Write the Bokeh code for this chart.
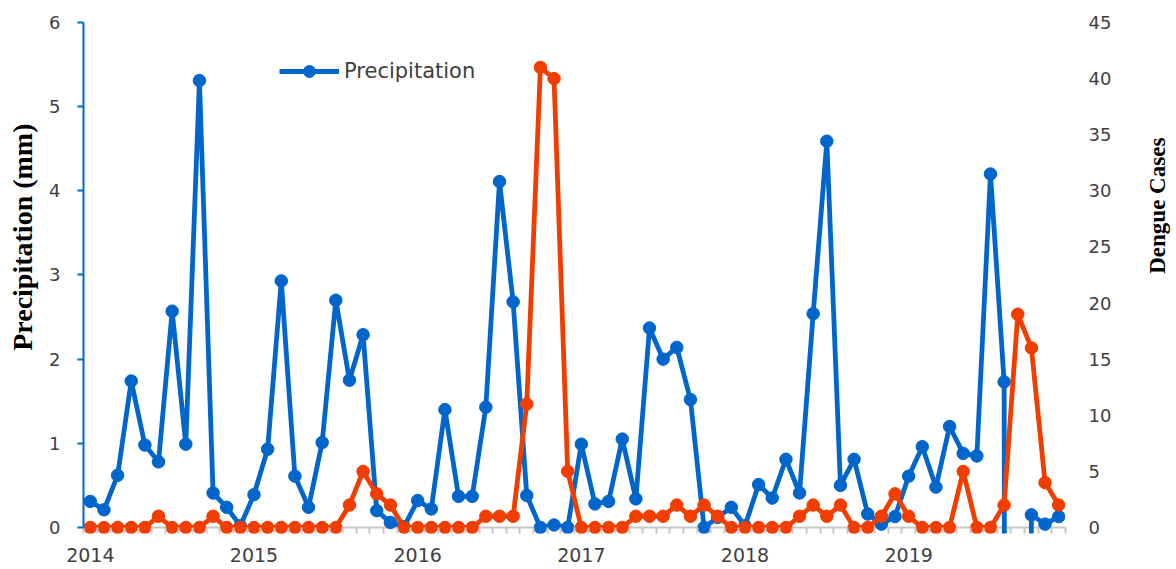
import math
from bokeh.plotting import figure
from bokeh.layouts import row
from bokeh.models import (Range1d, LinearAxis, FixedTicker, Span,
                          Legend, LegendItem, ColumnDataSource)
from bokeh.core.properties import value
from bokeh.embed import file_html
from bokeh.resources import INLINE

# ---- data (monthly, Jan 2014 .. Dec 2019) ----
years = ["2014", "2015", "2016", "2017", "2018", "2019"]

precipitation = [
    0.31, 0.21, 0.62, 1.74, 0.98, 0.78, 2.57, 0.99, 5.31, 0.41, 0.24, 0.02,   # 2014
    0.39, 0.93, 2.93, 0.61, 0.24, 1.01, 2.70, 1.75, 2.29, 0.20, 0.06, 0.01,   # 2015
    0.32, 0.22, 1.40, 0.37, 0.37, 1.43, 4.11, 2.68, 0.38, 0.00, 0.03, 0.00,   # 2016
    0.99, 0.28, 0.31, 1.05, 0.34, 2.37, 2.00, 2.14, 1.52, 0.00, 0.12, 0.24,   # 2017
    0.02, 0.51, 0.35, 0.81, 0.41, 2.54, 4.59, 0.50, 0.81, 0.16, 0.04, 0.13,   # 2018
    0.61, 0.96, 0.48, 1.20, 0.88, 0.85, 4.20, 1.73, -99.0, 0.15, 0.04, 0.13,  # 2019
]

dengue_cases = [
    0, 0, 0, 0, 0, 1, 0, 0, 0, 1, 0, 0,        # 2014
    0, 0, 0, 0, 0, 0, 0, 2, 5, 3, 2, 0,        # 2015
    0, 0, 0, 0, 0, 1, 1, 1, 11, 41, 40, 5,     # 2016
    0, 0, 0, 0, 1, 1, 1, 2, 1, 2, 1, 0,        # 2017
    0, 0, 0, 0, 1, 2, 1, 2, 0, 0, 1, 3,        # 2018
    1, 0, 0, 0, 5, 0, 0, 2, 19, 16, 4, 2,      # 2019
]

left_title = "Precipitation (mm)"
right_title = "Dengue Cases"
legend_label = "Precipitation"

month_index = list(range(len(precipitation)))

BLUE = "#0066CC"
ORANGE = "#F23D00"
GRAY_TXT = "#404040"
TICK_FONT = "DejaVu Sans"
H = 569

src = ColumnDataSource(dict(x=month_index, precip=precipitation, dengue=dengue_cases))

p = figure(frame_width=982, frame_height=511,
           x_range=Range1d(-0.5, 71.5), y_range=Range1d(-0.0713, 6),
           output_backend="svg", toolbar_location=None,
           min_border_left=40, min_border_right=60,
           min_border_top=22, min_border_bottom=36)
p.outline_line_color = None
p.xgrid.visible = False
p.ygrid.visible = False
p.extra_y_ranges = {"dengue": Range1d(-0.535, 45)}

# baseline (x axis line at zero)
p.add_layout(Span(location=0, dimension="width", line_color="#C8C8C8",
                  line_width=2, level="underlay"))

# series
bl = p.line("x", "precip", source=src, line_color=BLUE, line_width=4.8, line_join="round")
bs = p.scatter("x", "precip", source=src, size=12.5, fill_color=BLUE, line_color=BLUE)
ol = p.line("x", "dengue", source=src, line_color=ORANGE, line_width=4.8,
            line_join="round", y_range_name="dengue")
os_ = p.scatter("x", "dengue", source=src, size=12.5, fill_color=ORANGE,
                line_color=ORANGE, y_range_name="dengue")

# x axis
xa = p.xaxis[0]
xa.ticker = FixedTicker(ticks=[12 * k for k in range(len(years))],
                        minor_ticks=[k - 0.5 for k in range(73)])
xa.major_label_overrides = {12 * k: y for k, y in enumerate(years)}
xa.axis_line_color = None
xa.major_tick_line_color = None
xa.major_tick_out = 0
xa.major_tick_in = 0
xa.minor_tick_line_color = "#C8C8C8"
xa.minor_tick_line_width = 2
xa.minor_tick_in = 6
xa.minor_tick_out = 0
xa.major_label_standoff = 14
xa.major_label_text_font = TICK_FONT
xa.major_label_text_font_size = "19px"
xa.major_label_text_color = GRAY_TXT

# left axis
ya = p.yaxis[0]
ya.ticker = FixedTicker(ticks=list(range(0, 7)))
ya.bounds = (0, 6)
ya.axis_line_color = BLUE
ya.axis_line_width = 2
ya.major_tick_line_color = BLUE
ya.major_tick_line_width = 2
ya.major_tick_out = 6
ya.major_tick_in = 0
ya.minor_tick_line_color = None
ya.major_label_standoff = 17
ya.major_label_text_font = TICK_FONT
ya.major_label_text_font_size = "18px"
ya.major_label_text_color = GRAY_TXT

# right axis
ra = LinearAxis(y_range_name="dengue", ticker=FixedTicker(ticks=list(range(0, 46, 5))),
                bounds=(0, 45))
ra.axis_line_color = None
ra.major_tick_line_color = None
ra.major_tick_out = 0
ra.major_tick_in = 0
ra.minor_tick_line_color = None
ra.major_label_standoff = 23
ra.major_label_text_font = TICK_FONT
ra.major_label_text_font_size = "18px"
ra.major_label_text_color = GRAY_TXT
p.add_layout(ra, "right")

# legend
legend = Legend(items=[LegendItem(label=legend_label, renderers=[bl, bs])],
                location=(196, 447), glyph_width=60, glyph_height=30,
                label_standoff=5, padding=0, margin=0, spacing=0,
                border_line_color=None, background_fill_alpha=0,
                label_text_font=TICK_FONT, label_text_font_size="21px",
                label_text_color=GRAY_TXT)
p.add_layout(legend)


def title_strip(width, text, x, y, size):
    f = figure(width=width, height=H, x_range=Range1d(0, width), y_range=Range1d(0, H),
               output_backend="svg", toolbar_location=None, min_border=0)
    f.axis.visible = False
    f.xgrid.visible = False
    f.ygrid.visible = False
    f.outline_line_color = None
    f.text(x=[x], y=[y], text=[text], angle=math.pi / 2,
           text_align="center", text_baseline="middle",
           text_font=value("Liberation Serif"), text_font_style="bold",
           text_font_size=size, text_color="black")
    return f


left = title_strip(43, left_title, 22, 330, "28px")
right = title_strip(51, right_title, 32, 365, "23px")

layout = row(left, p, right)
open("out.html", "w").write(file_html(layout, INLINE))
